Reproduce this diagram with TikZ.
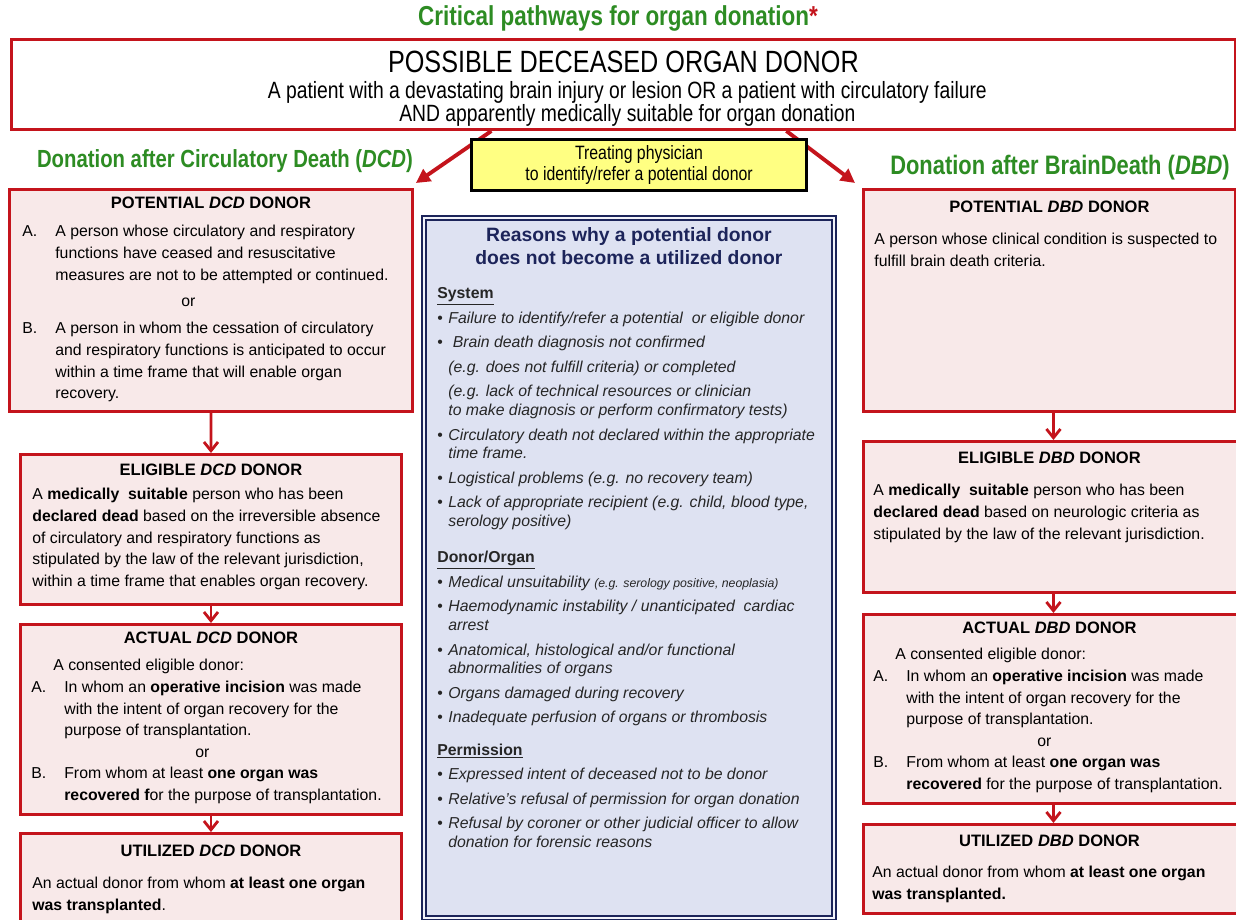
\documentclass[tikz,border=0pt]{standalone}
\usepackage{fontspec}
\setmainfont{Liberation Sans}
\newfontfamily\narrowfont[FakeStretch=0.82]{Liberation Sans}
\usetikzlibrary{positioning, calc, arrows.meta}

\definecolor{donorred}{RGB}{196,20,28}
\definecolor{boxpink}{RGB}{248,233,233}
\definecolor{titlegreen}{RGB}{45,140,35}
\definecolor{reasonblue}{RGB}{222,226,242}
\definecolor{reasonnavy}{RGB}{28,36,90}
\definecolor{physyellow}{RGB}{255,255,130}

\newcommand{\lbl}[1]{\makebox[0.66cm][l]{#1}}
\newcommand{\lblskip}{\hspace*{0.66cm}}
\newcommand{\rbul}{\makebox[0.22cm][l]{\textbullet}}
\newcommand{\rskip}{\hspace*{0.22cm}}

\begin{document}
\begin{tikzpicture}[x=0.02cm, y=-0.02cm,
  donorbox/.style={draw=donorred, line width=1.7pt, fill=boxpink, inner sep=0pt, anchor=north west},
  boxtitle/.style={font=\fontsize{9.4}{11}\selectfont\bfseries, inner sep=0pt},
  boxtext/.style={font=\fontsize{9}{12.3}\selectfont, align=left, inner sep=0pt, anchor=north west},
  greenhead/.style={font=\narrowfont\bfseries\fontsize{14.1}{16}\selectfont, text=titlegreen},
  flow/.style={draw=donorred, line width=1.6pt, -{Straight Barb[length=5pt, width=8pt]}},
  bigflow/.style={draw=donorred, line width=2.2pt, -{Triangle[length=8pt, width=8pt]}},
]
\clip (0,0) rectangle (1236,919);
\fill[white] (0,0) rectangle (1236,919);

% heading and top box
\node[font=\narrowfont\bfseries\fontsize{15.6}{17}\selectfont, text=titlegreen] (maintitle) at (618,18)
  {Critical pathways for organ donation\textcolor{donorred}{*}};
\node[draw=donorred, line width=1.7pt, fill=white, minimum width=24.48cm, minimum height=1.8cm, anchor=north west] (possible) at (10,38) {};
\node[font=\narrowfont\fontsize{17.5}{20}\selectfont] (possibleT) at ($(possible.north)+(0,24)$) {POSSIBLE DECEASED ORGAN DONOR};
\node[font=\narrowfont\fontsize{13.4}{13}\selectfont, align=center] (possibleB) at ($(possible.north)+(4,66)$)
  {A patient with a devastating brain injury or lesion OR a patient with circulatory failure\\
   AND apparently medically suitable for organ donation};

\node[greenhead] (dcdhead) at (225,161) {Donation after Circulatory Death (\textit{DCD})};
\node[greenhead, font=\narrowfont\bfseries\fontsize{15.2}{16}\selectfont] (dbdhead) at (1060,168) {Donation after BrainDeath (\textit{DBD})};

% DCD column
\node[donorbox, minimum width=8.06cm, minimum height=4.44cm] (potDCD) at (8,188) {};
\node[donorbox, minimum width=7.62cm, minimum height=3.0cm] (eligDCD) at (19,453) {};
\node[donorbox, minimum width=7.62cm, minimum height=3.8cm] (actDCD) at (19,623) {};
\node[donorbox, minimum width=7.62cm, minimum height=2.2cm] (utilDCD) at (19,832) {};

% DBD column
\node[donorbox, minimum width=7.44cm, minimum height=4.44cm] (potDBD) at (862,188) {};
\node[donorbox, minimum width=7.6cm, minimum height=3.02cm] (eligDBD) at (862,440) {};
\node[donorbox, minimum width=7.6cm, minimum height=3.78cm] (actDBD) at (862,613) {};
\node[donorbox, minimum width=7.6cm, minimum height=1.78cm] (utilDBD) at (862,823) {};

\draw[bigflow] ($(possible.south)+(-132,0)$) -- ($(potDCD.north east)+(2,-5)$);
\draw[bigflow] ($(possible.south)+(163,0)$) -- ($(potDBD.north west)+(-7,-5)$);

\node[draw=black, line width=1.8pt, fill=physyellow, minimum width=6.7cm, minimum height=1cm, anchor=north west,
  align=center, font=\narrowfont\fontsize{11}{12}\selectfont] (physician) at (470,138)
  {Treating physician\\to identify/refer a potential donor};

\draw[flow] (potDCD) -- (eligDCD);
\draw[flow] (eligDCD) -- (actDCD);
\draw[flow] (actDCD) -- (utilDCD);
\draw[flow] (eligDBD.north |- potDBD.south) -- (eligDBD.north);
\draw[flow] (eligDBD) -- (actDBD);
\draw[flow] (actDBD) -- (utilDBD);

% DCD texts
\node[boxtitle] at ($(potDCD.north)+(0,15)$) {POTENTIAL \textit{DCD}\ DONOR};
\node[boxtext] at ($(potDCD.north west)+(14,37)$) {%
  \lbl{A.}A person whose circulatory and respiratory\\
  \lblskip functions have ceased and resuscitative\\
  \lblskip measures are not to be attempted or continued.\\[3pt]
  \hspace*{3.18cm}or\\[3pt]
  \lbl{B.}A person in whom the cessation of circulatory\\
  \lblskip and respiratory functions is anticipated to occur\\
  \lblskip within a time frame that will enable organ\\
  \lblskip recovery.};
\node[boxtitle] at ($(eligDCD.north)+(0,17)$) {ELIGIBLE \textit{DCD} DONOR};
\node[boxtext] at ($(eligDCD.north west)+(13,35)$) {%
  A \textbf{medically\ \ suitable} person who has been\\
  \textbf{declared dead} based on the irreversible absence\\
  of circulatory and respiratory functions as\\
  stipulated by the law of the relevant jurisdiction,\\
  within a time frame that enables organ recovery.};
\node[boxtitle] at ($(actDCD.north)+(0,15)$) {ACTUAL \textit{DCD} DONOR};
\node[boxtext] at ($(actDCD.north west)+(12,36)$) {%
  \hspace*{0.44cm}A consented eligible\ donor:\\
  \lbl{A.}In whom an \textbf{operative incision} was made\\
  \lblskip with the intent of organ recovery for the\\
  \lblskip purpose of transplantation.\\
  \hspace*{3.28cm}or\\
  \lbl{B.}From whom at least \textbf{one organ was}\\
  \lblskip\textbf{recovered f}or the purpose of transplantation.};
\node[boxtitle] at ($(utilDCD.north)+(0,19)$) {UTILIZED \textit{DCD} DONOR};
\node[boxtext] at ($(utilDCD.north west)+(13,45)$) {%
  An actual donor from whom \textbf{at least one organ}\\
  \textbf{was transplanted}.};

% DBD texts
\node[boxtitle] at ($(potDBD.north)+(0,19)$) {POTENTIAL \textit{DBD} DONOR};
\node[boxtext] at ($(potDBD.north west)+(12,45)$) {%
  A person whose clinical condition is suspected to\\
  fulfill brain death criteria.};
\node[boxtitle] at ($(eligDBD.north)+(-4,18)$) {ELIGIBLE \textit{DBD} DONOR};
\node[boxtext] at ($(eligDBD.north west)+(11,44)$) {%
  A \textbf{medically\ \ suitable} person who has been\\
  \textbf{declared dead} based on neurologic\ criteria as\\
  stipulated by the law of the relevant jurisdiction.};
\node[boxtitle] at ($(actDBD.north)+(-4,15)$) {ACTUAL \textit{DBD} DONOR};
\node[boxtext] at ($(actDBD.north west)+(11,35)$) {%
  \hspace*{0.44cm}A consented eligible\ donor:\\
  \lbl{A.}In whom an \textbf{operative incision} was made\\
  \lblskip with the intent of organ recovery for the\\
  \lblskip purpose of transplantation.\\
  \hspace*{3.28cm}or\\
  \lbl{B.}From whom at least \textbf{one organ was}\\
  \lblskip\textbf{recovered} for the purpose of transplantation.};
\node[boxtitle] at ($(utilDBD.north)+(-4,18)$) {UTILIZED \textit{DBD} DONOR};
\node[boxtext] at ($(utilDBD.north west)+(10,43)$) {%
  An actual donor from whom \textbf{at least one organ}\\
  \textbf{was transplanted.}};

% reasons
\node[draw=reasonnavy, line width=1.1pt, double=white!60!reasonblue, double distance=1.2pt, fill=reasonblue,
  minimum width=8.2cm, minimum height=14cm, anchor=north west] (reasons) at (423,217) {};
\node[font=\fontsize{11}{13}\selectfont\bfseries, text=reasonnavy, align=center] (reasonsT) at ($(reasons.north)+(0,29)$)
  {Reasons why a potential donor\\does not become a utilized donor};
\node[font=\fontsize{9}{10.6}\selectfont, align=left, inner sep=0pt, anchor=north west, text=black!85] (reasonsB)
  at ($(reasons.north west)+(14,70)$) {%
  \underline{\textbf{System}}\\[3.4pt]
  \rbul\textit{Failure to identify/refer a potential\ \ or eligible donor}\\[3.4pt]
  \rbul\textit{\ Brain death diagnosis not confirmed}\\[3.4pt]
  \rskip\textit{(e.g. does not fulfill criteria) or completed}\\[3.4pt]
  \rskip\textit{(e.g. lack of technical resources or clinician}\\
  \rskip\textit{to make diagnosis or perform confirmatory tests)}\\[3.4pt]
  \rbul\textit{Circulatory death not declared within\ the appropriate}\\
  \rskip\textit{time frame.}\\[3.4pt]
  \rbul\textit{Logistical problems (e.g. no recovery team)}\\[3.4pt]
  \rbul\textit{Lack of appropriate recipient (e.g. child, blood type,}\\
  \rskip\textit{serology positive)}\\[10pt]
  \underline{\textbf{Donor/Organ}}\\[3.4pt]
  \rbul\textit{Medical unsuitability {\fontsize{7}{8}\selectfont (e.g. serology positive, neoplasia)}}\\[3.4pt]
  \rbul\textit{Haemodynamic instability / unanticipated\ \ cardiac}\\
  \rskip\textit{arrest}\\[3.4pt]
  \rbul\textit{Anatomical, histological and/or functional}\\
  \rskip\textit{abnormalities of organs}\\[3.4pt]
  \rbul\textit{Organs damaged during recovery}\\[3.4pt]
  \rbul\textit{Inadequate\ perfusion of organs or thrombosis}\\[7.7pt]
  \underline{\textbf{Permission}}\\[3.4pt]
  \rbul\textit{Expressed intent of deceased not to be donor}\\[3.4pt]
  \rbul\textit{Relative's refusal of permission for organ donation}\\[3.4pt]
  \rbul\textit{Refusal by coroner or other judicial officer to allow}\\
  \rskip\textit{donation for forensic reasons}};
\end{tikzpicture}
\end{document}
